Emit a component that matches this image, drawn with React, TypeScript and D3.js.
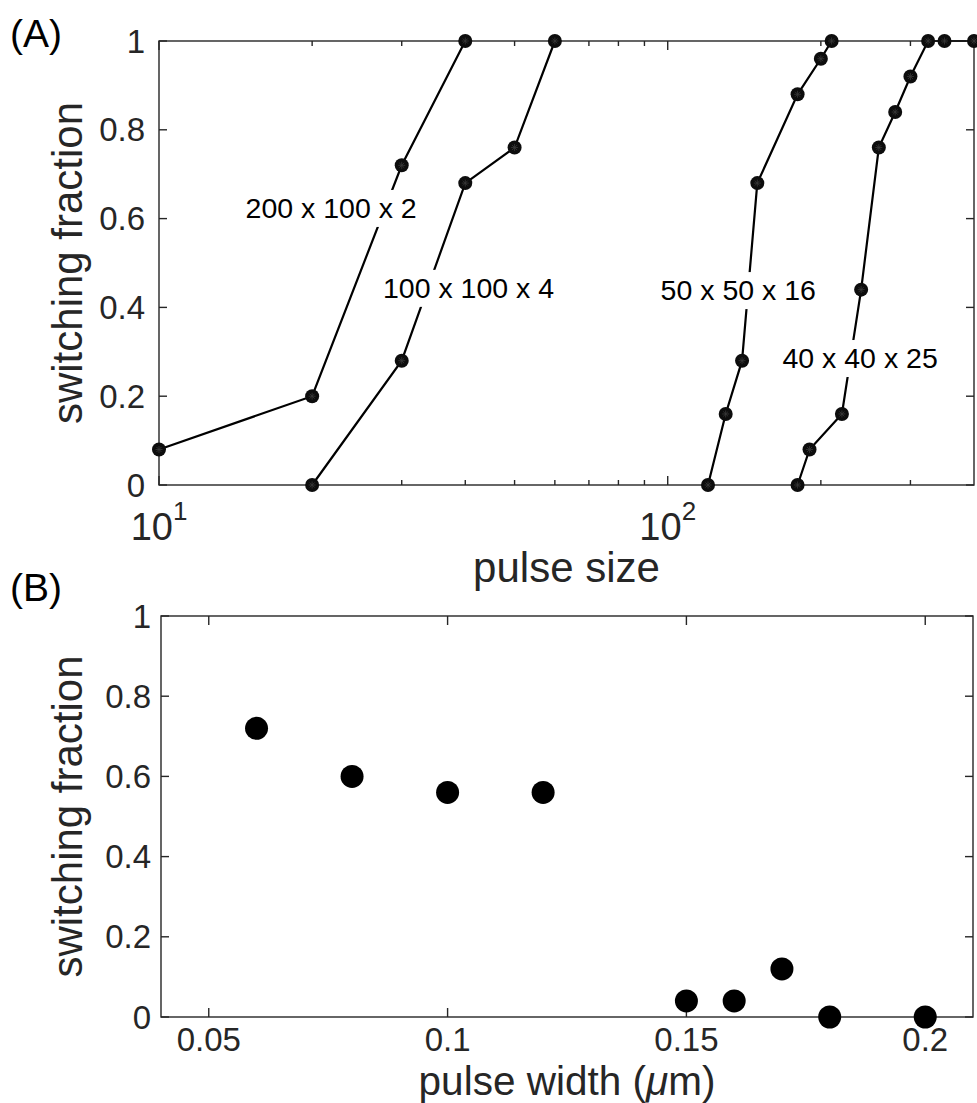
import React from "react";
import * as d3 from "d3";

// ---------- data ----------
const s1X = [10, 20, 30, 40];
const s1Y = [0.08, 0.2, 0.72, 1];
const s2X = [20, 30, 40, 50, 60];
const s2Y = [0, 0.28, 0.68, 0.76, 1];
const s3X = [120, 130, 140, 150, 180, 200, 210];
const s3Y = [0, 0.16, 0.28, 0.68, 0.88, 0.96, 1];
const s4X = [180, 190, 220, 240, 260, 280, 300, 325, 350, 400];
const s4Y = [0, 0.08, 0.16, 0.44, 0.76, 0.84, 0.92, 1, 1, 1];
const seriesLabels = ["200 x 100 x 2", "100 x 100 x 4", "50 x 50 x 16", "40 x 40 x 25"];
const labelAnchorX = [21.8, 40.6, 137.6, 238.9]; // label centre in data units (pulse size)
const labelAnchorY = [0.624, 0.444, 0.439, 0.286];

const widthX = [0.06, 0.08, 0.1, 0.12, 0.15, 0.16, 0.17, 0.18, 0.2];
const widthY = [0.72, 0.6, 0.56, 0.56, 0.04, 0.04, 0.12, 0, 0];

const yTicks = [0, 0.2, 0.4, 0.6, 0.8, 1];
const yTickLabels = ["0", "0.2", "0.4", "0.6", "0.8", "1"];
const logMajor = [10, 100];
const logMinor = [20, 30, 40, 50, 60, 70, 80, 90, 200, 300];
const wTicks = [0.05, 0.1, 0.15, 0.2];
const wTickLabels = ["0.05", "0.1", "0.15", "0.2"];

const AX = "#262626";
const FONT = "'Liberation Sans', Arial, Helvetica, sans-serif";

export default function App() {
  // panel A
  const ax = { l: 159, r: 974, t: 41, b: 485 };
  const x1 = d3.scaleLog().domain([10, 400]).range([ax.l, ax.r]);
  const y1 = d3.scaleLinear().domain([0, 1]).range([ax.b, ax.t]);
  // panel B
  const bx = { l: 161, r: 973, t: 616, b: 1017 };
  const x2 = d3.scaleLinear().domain([0.04, 0.21]).range([bx.l, bx.r]);
  const y2 = d3.scaleLinear().domain([0, 1]).range([bx.b, bx.t]);

  const line = d3
    .line<[number, number]>()
    .x((d) => x1(d[0]))
    .y((d) => y1(d[1]));

  const series = [
    [s1X, s1Y],
    [s2X, s2Y],
    [s3X, s3Y],
    [s4X, s4Y],
  ].map(([xs, ys]) => xs.map((v, i) => [v, ys[i]] as [number, number]));

  const labelFont = 28.5;
  const tickFont = 33;
  const axisLabelFont = 42;

  const marker = (cx: number, cy: number, k: string) => (
    <g key={k}>
      <circle cx={cx} cy={cy} r={7} fill="#0d0d0d" />
      {[0, 45, 90, 135].map((a) => {
        const rad = (a * Math.PI) / 180;
        const dx = Math.cos(rad) * 3.5;
        const dy = Math.sin(rad) * 3.5;
        return (
          <line
            key={a}
            x1={cx - dx}
            y1={cy - dy}
            x2={cx + dx}
            y2={cy + dy}
            stroke="#3a3a3a"
            strokeWidth={0.8}
          />
        );
      })}
    </g>
  );

  const textWidth = (t: string, fs: number) =>
    t.replace(/[^0-9]/g, "").length * 0.556 * fs +
    (t.match(/x/g) || []).length * 0.5 * fs +
    (t.match(/ /g) || []).length * 0.278 * fs;

  return (
    <svg
      width={977}
      height={1103}
      style={{ position: "absolute", left: 0, top: 0, background: "#fff" }}
      fontFamily={FONT}
    >
      <rect x={0} y={0} width={977} height={1103} fill="#fff" />

      {/* ================= Panel A ================= */}
      <text x={10} y={47} fontSize={39} fill="#000">
        (A)
      </text>

      {/* data lines */}
      {series.map((s, i) => (
        <path key={i} d={line(s) || ""} fill="none" stroke="#000" strokeWidth={2.2} />
      ))}

      {/* labels with white background */}
      {seriesLabels.map((t, i) => {
        const cx = x1(labelAnchorX[i]);
        const cy = y1(labelAnchorY[i]);
        const w = textWidth(t, labelFont);
        return (
          <g key={t}>
            <rect x={cx - w / 2 - 3} y={cy - 18} width={w + 6} height={37} fill="#fff" />
            <text x={cx} y={cy + 10} fontSize={labelFont} textAnchor="middle" fill="#000">
              {t}
            </text>
          </g>
        );
      })}

      {/* axes frame */}
      <rect
        x={ax.l}
        y={ax.t}
        width={ax.r - ax.l}
        height={ax.b - ax.t}
        fill="none"
        stroke={AX}
        strokeWidth={1.4}
      />
      {yTicks.map((v, i) => (
        <g key={"ya" + i}>
          <line x1={ax.l} x2={ax.l + 8} y1={y1(v)} y2={y1(v)} stroke={AX} strokeWidth={1.4} />
          <line x1={ax.r} x2={ax.r - 8} y1={y1(v)} y2={y1(v)} stroke={AX} strokeWidth={1.4} />
          <text x={ax.l - 14} y={y1(v) + 11.5} fontSize={tickFont} textAnchor="end" fill={AX}>
            {yTickLabels[i]}
          </text>
        </g>
      ))}
      {logMajor.map((v) => (
        <g key={"xm" + v}>
          <line x1={x1(v)} x2={x1(v)} y1={ax.b} y2={ax.b - 9} stroke={AX} strokeWidth={1.4} />
          <line x1={x1(v)} x2={x1(v)} y1={ax.t} y2={ax.t + 9} stroke={AX} strokeWidth={1.4} />
          <text x={x1(v)} y={540} fontSize={38} textAnchor="middle" fill={AX}>
            10
            <tspan fontSize={26} dy={-20}>
              {String(Math.round(Math.log10(v)))}
            </tspan>
          </text>
        </g>
      ))}
      {logMinor.map((v) => (
        <g key={"xn" + v}>
          <line x1={x1(v)} x2={x1(v)} y1={ax.b} y2={ax.b - 5} stroke={AX} strokeWidth={1.4} />
          <line x1={x1(v)} x2={x1(v)} y1={ax.t} y2={ax.t + 5} stroke={AX} strokeWidth={1.4} />
        </g>
      ))}

      {/* markers */}
      {series.map((s, i) => s.map((d, j) => marker(x1(d[0]), y1(d[1]), `m${i}-${j}`)))}

      <text x={(ax.l + ax.r) / 2} y={582} fontSize={axisLabelFont} textAnchor="middle" fill={AX}>
        pulse size
      </text>
      <text
        transform={`translate(82, ${(ax.t + ax.b) / 2}) rotate(-90)`}
        fontSize={axisLabelFont}
        textAnchor="middle"
        fill={AX}
      >
        switching fraction
      </text>

      {/* ================= Panel B ================= */}
      <text x={10} y={601} fontSize={39} fill="#000">
        (B)
      </text>
      <rect
        x={bx.l}
        y={bx.t}
        width={bx.r - bx.l}
        height={bx.b - bx.t}
        fill="none"
        stroke={AX}
        strokeWidth={1.4}
      />
      {yTicks.map((v, i) => (
        <g key={"yb" + i}>
          <line x1={bx.l} x2={bx.l + 8} y1={y2(v)} y2={y2(v)} stroke={AX} strokeWidth={1.4} />
          <line x1={bx.r} x2={bx.r - 8} y1={y2(v)} y2={y2(v)} stroke={AX} strokeWidth={1.4} />
          <text x={bx.l - 10} y={y2(v) + 11.5} fontSize={tickFont} textAnchor="end" fill={AX}>
            {yTickLabels[i]}
          </text>
        </g>
      ))}
      {wTicks.map((v, i) => (
        <g key={"xb" + i}>
          <line x1={x2(v)} x2={x2(v)} y1={bx.b} y2={bx.b - 9} stroke={AX} strokeWidth={1.4} />
          <line x1={x2(v)} x2={x2(v)} y1={bx.t} y2={bx.t + 9} stroke={AX} strokeWidth={1.4} />
          <text x={x2(v)} y={1051} fontSize={tickFont} textAnchor="middle" fill={AX}>
            {wTickLabels[i]}
          </text>
        </g>
      ))}
      {widthX.map((v, i) => (
        <circle key={"p" + i} cx={x2(v)} cy={y2(widthY[i])} r={11.5} fill="#000" />
      ))}
      <text x={(bx.l + bx.r) / 2} y={1095} fontSize={40.5} textAnchor="middle" fill={AX}>
        pulse width (<tspan fontStyle="italic">μ</tspan>m)
      </text>
      <text
        transform={`translate(82, ${(bx.t + bx.b) / 2}) rotate(-90)`}
        fontSize={axisLabelFont}
        textAnchor="middle"
        fill={AX}
      >
        switching fraction
      </text>
    </svg>
  );
}
